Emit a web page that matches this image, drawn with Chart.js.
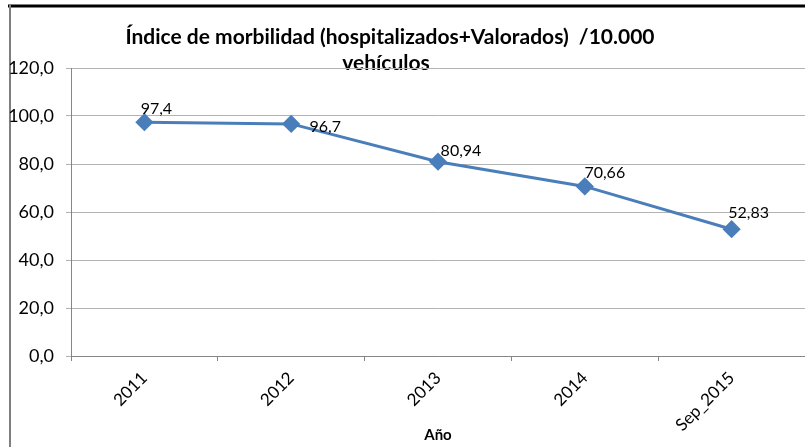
<!DOCTYPE html>
<html>
<head>
<meta charset="utf-8">
<script src="https://cdn.jsdelivr.net/npm/chart.js@4"></script>
<style>
  body { margin: 0; background: #fff; }
  #wrap { width: 805px; height: 447px; position: relative; }
</style>
</head>
<body>
<div id="wrap"><canvas id="myChart" width="805" height="447"></canvas></div>
<script>
const years = ['2011', '2012', '2013', '2014', 'Sep_2015'];
const indice = [97.4, 96.7, 80.94, 70.66, 52.83];
const labelTexts = ['97,4', '96,7', '80,94', '70,66', '52,83'];
const titleLines = ['Índice de morbilidad (hospitalizados+Valorados)  /10.000', 'vehículos'];
const axisTitle = 'Año';

const FONT = 'Lato, "Open Sans", sans-serif';
const lineColor = '#4a7ebb';

// label offsets relative to the point (dx, dy)
const labelOffsets = [[12, -13], [34, 3], [23, -11], [20, -14], [17, -16]];

const frame = {
  id: 'frame',
  beforeDraw(chart) {
    let ctx = chart.ctx;
    ctx.save();
    ctx.fillStyle = '#fff';
    ctx.fillRect(0, 0, chart.width, chart.height);
    ctx.strokeStyle = '#000';
    ctx.lineWidth = 3;
    ctx.beginPath();
    ctx.moveTo(8, 6);
    ctx.lineTo(chart.width, 6);
    ctx.stroke();
    ctx.strokeStyle = '#7f7f7f';
    ctx.lineWidth = 2;
    ctx.beginPath();
    ctx.moveTo(10, 5);
    ctx.lineTo(10, chart.height);
    ctx.stroke();
    // title
    ctx.fillStyle = '#000';
    ctx.font = 'bold 21px ' + FONT;
    ctx.textAlign = 'center';
    ctx.textBaseline = 'middle';
    ctx.fillText(titleLines[0], 390, 37);
    ctx.fillText(titleLines[1], 386, 63);
    ctx.restore();
  },
  afterDatasetsDraw(chart) {
    let ctx = chart.ctx;
    let meta = chart.getDatasetMeta(0);
    ctx.save();
    ctx.fillStyle = '#000';
    ctx.font = '16px ' + FONT;
    ctx.textAlign = 'center';
    ctx.textBaseline = 'middle';
    meta.data.forEach((pt, i) => {
      ctx.fillText(labelTexts[i], pt.x + labelOffsets[i][0], pt.y + labelOffsets[i][1]);
    });
    ctx.restore();
  }
};

var ctx = document.getElementById('myChart');
var myChart = new Chart(ctx, {
  type: 'line',
  data: {
    labels: years,
    datasets: [{
      label: 'Índice',
      data: indice,
      fill: false,
      borderColor: lineColor,
      backgroundColor: lineColor,
      borderWidth: 3,
      pointStyle: 'rectRot',
      pointRadius: 7,
      pointHoverRadius: 7,
      tension: 0,
      clip: false
    }]
  },
  plugins: [frame],
  options: {
    responsive: false,
    animation: false,
    layout: { autoPadding: false, padding: { top: 68, right: 0, left: 0, bottom: 0 } },
    plugins: {
      legend: { display: false },
      tooltip: { enabled: false },
      title: { display: false }
    },
    scales: {
      x: {
        offset: true,
        grid: {
          offset: true,
          drawOnChartArea: false,
          color: '#868686',
          tickLength: 5
        },
        border: { color: '#868686', width: 1 },
        ticks: {
          color: '#000',
          font: { family: FONT, size: 17 },
          maxRotation: 45,
          minRotation: 45,
          padding: 7
        },
        title: {
          display: true,
          text: axisTitle,
          color: '#000',
          font: { family: FONT, size: 15, weight: 'bold' },
          padding: { top: 0, bottom: 3 }
        },
        afterFit(scale) {
          scale.height = 91;
          scale.paddingLeft = 0;
          scale.paddingRight = 0;
        }
      },
      y: {
        min: 0,
        max: 120,
        ticks: {
          stepSize: 20,
          color: '#000',
          font: { family: FONT, size: 18 },
          padding: 12,
          callback: (v) => v.toFixed(1).replace('.', ',')
        },
        grid: {
          color: '#b3b3b3',
          tickLength: 5
        },
        border: { color: '#868686', width: 1 },
        afterFit(scale) {
          scale.width = 71;
          scale.paddingTop = 0;
          scale.paddingBottom = 0;
        }
      }
    }
  }
});
</script>
</body>
</html>
